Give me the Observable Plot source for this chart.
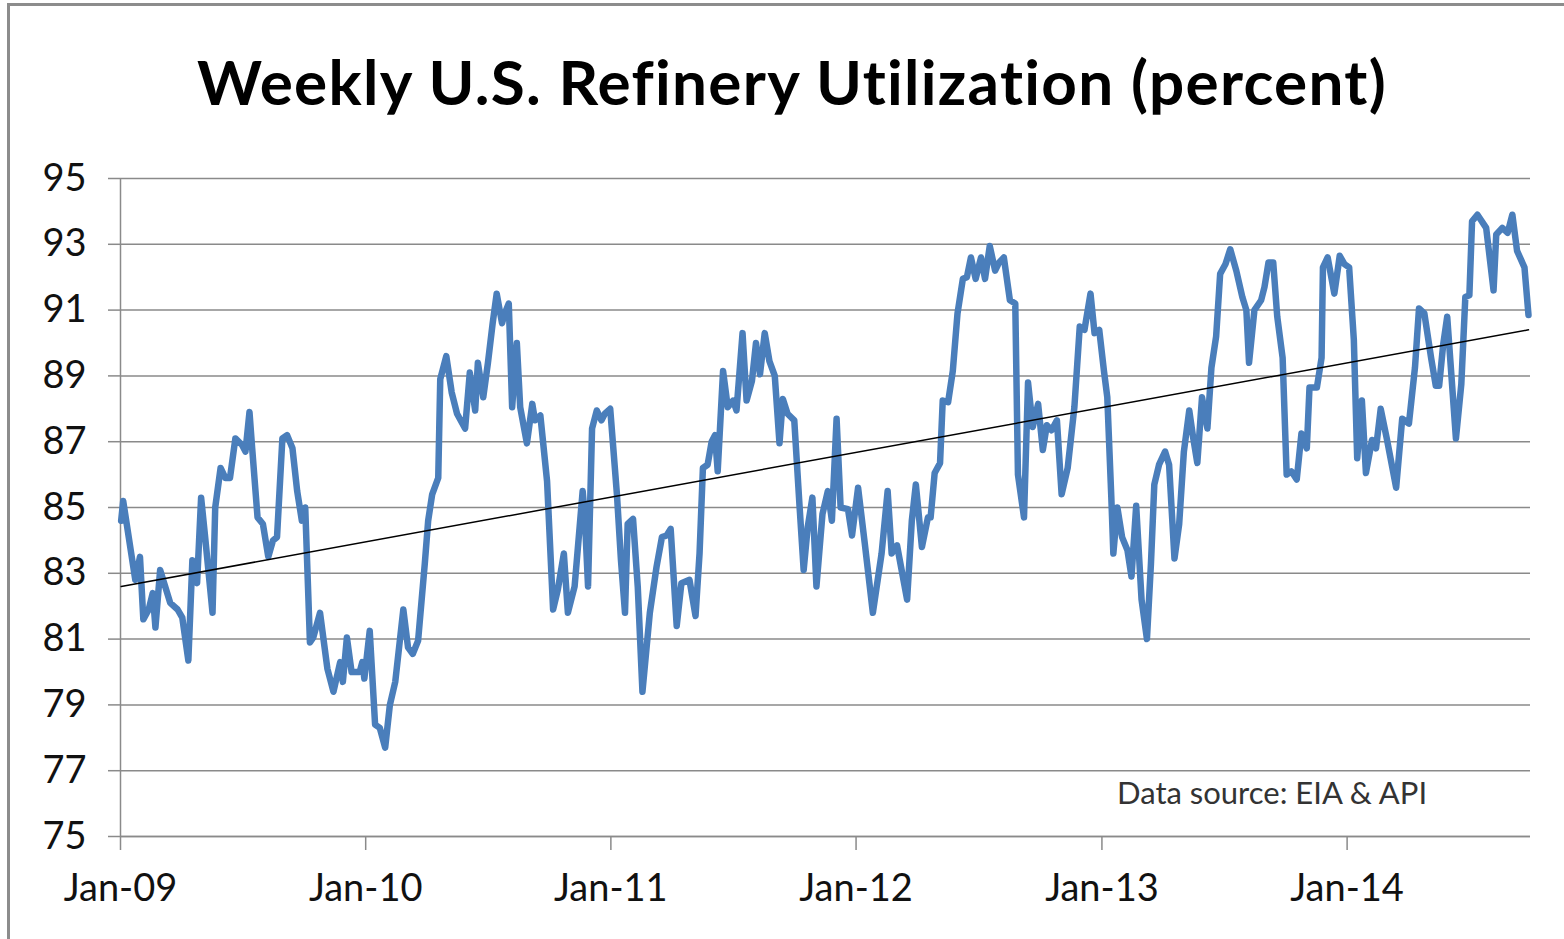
<!DOCTYPE html>
<html>
<head>
<meta charset="utf-8">
<script src="https://cdn.jsdelivr.net/npm/d3@7"></script>
<script src="https://cdn.jsdelivr.net/npm/@observablehq/plot@0.6"></script>
<style>
  html, body { margin: 0; padding: 0; background: #fff; }
  body { width: 1564px; height: 939px; position: relative; overflow: hidden; font-family: Lato, "Open Sans", sans-serif; font-variant-ligatures: none; }
  #frame { position: absolute; left: 7px; top: 3px; width: 1600px; height: 1000px; border-left: 3px solid #8c8c8c; border-top: 3px solid #8c8c8c; }
  #title { position: absolute; left: 0; width: 1584px; top: 50px; text-align: center; font-weight: 700; font-size: 62px; letter-spacing: 1.3px; color: #000; line-height: 1; font-variant-ligatures: none; white-space: nowrap; }
  #chart { position: absolute; left: 0; top: 150px; }
  #source { position: absolute; left: 1117px; top: 777px; font-size: 31px; color: #333; line-height: 1; white-space: nowrap; }
</style>
</head>
<body>
<div id="frame"></div>
<div id="title">Weekly U.S. Refinery Utilization (percent)</div>
<div id="chart"></div>
<div id="source">Data source: EIA &amp; API</div>
<script>
// Weekly U.S. refinery utilization (percent)
const y2009 = [
  ["2009-01-02",84.6],["2009-01-05",85.2],["2009-01-23",82.8],["2009-01-30",83.5],["2009-02-04",81.6],
  ["2009-02-12",81.9],["2009-02-18",82.4],["2009-02-22",81.35],["2009-03-01",83.1],["2009-03-16",82.1],
  ["2009-03-27",81.9],["2009-04-03",81.65],["2009-04-12",80.35],["2009-04-18",83.4],["2009-04-25",82.7],
  ["2009-05-01",85.3],["2009-05-07",84.1],["2009-05-18",81.8],["2009-05-22",85.0],["2009-05-30",86.2],
  ["2009-06-06",85.9],["2009-06-13",85.9],["2009-06-21",87.1],["2009-07-01",86.9],["2009-07-06",86.7],
  ["2009-07-12",87.9],["2009-07-16",86.8],["2009-07-24",84.7],["2009-08-01",84.5],["2009-08-09",83.5],
  ["2009-08-16",84.0],["2009-08-22",84.1],["2009-08-30",87.1],["2009-09-06",87.2],["2009-09-14",86.8],
  ["2009-09-21",85.5],["2009-09-28",84.6],["2009-10-03",85.0],["2009-10-10",80.9],["2009-10-15",81.05],
  ["2009-10-25",81.8],["2009-11-05",80.1],["2009-11-14",79.4],["2009-11-24",80.3],["2009-11-28",79.7],
  ["2009-12-04",81.05],["2009-12-11",80.0],["2009-12-23",80.0],["2009-12-27",80.3],["2009-12-30",79.8]
];
const y2010 = [
  ["2010-01-07",81.25],["2010-01-15",78.4],["2010-01-22",78.3],["2010-01-30",77.7],["2010-02-06",79.0],
  ["2010-02-14",79.7],["2010-02-26",81.9],["2010-03-05",80.75],["2010-03-12",80.55],["2010-03-20",80.95],
  ["2010-03-30",83.3],["2010-04-04",84.6],["2010-04-10",85.4],["2010-04-19",85.9],["2010-04-22",88.9],
  ["2010-05-01",89.6],["2010-05-09",88.5],["2010-05-17",87.85],["2010-05-29",87.4],["2010-06-05",89.1],
  ["2010-06-13",87.95],["2010-06-17",89.4],["2010-06-25",88.35],["2010-07-02",89.4],["2010-07-09",90.6],
  ["2010-07-15",91.5],["2010-07-23",90.6],["2010-07-27",90.9],["2010-08-02",91.2],["2010-08-07",88.05],
  ["2010-08-14",90.0],["2010-08-19",88.05],["2010-08-29",86.95],["2010-09-06",88.15],["2010-09-10",87.65],
  ["2010-09-18",87.8],["2010-09-28",85.8],["2010-10-07",81.9],["2010-10-14",82.5],["2010-10-23",83.6],
  ["2010-10-29",81.8],["2010-11-08",82.6],["2010-11-20",85.5],["2010-11-23",84.8],["2010-11-28",82.6],
  ["2010-12-04",87.4],["2010-12-11",87.95],["2010-12-18",87.65],["2010-12-23",87.85],["2010-12-31",88.0]
];
const y2011 = [
  ["2011-01-10",85.4],["2011-01-16",83.4],["2011-01-22",81.8],["2011-01-26",84.5],["2011-02-03",84.65],
  ["2011-02-10",82.6],["2011-02-17",79.4],["2011-02-28",81.8],["2011-03-10",83.2],["2011-03-18",84.1],
  ["2011-03-25",84.15],["2011-03-31",84.35],["2011-04-09",81.4],["2011-04-16",82.7],["2011-04-28",82.8],
  ["2011-05-07",81.7],["2011-05-13",83.6],["2011-05-18",86.2],["2011-05-25",86.3],["2011-05-31",87.0],
  ["2011-06-05",87.2],["2011-06-09",86.1],["2011-06-17",89.15],["2011-06-24",88.05],["2011-07-02",88.25],
  ["2011-07-07",87.95],["2011-07-16",90.3],["2011-07-22",88.25],["2011-07-30",88.85],["2011-08-05",90.0],
  ["2011-08-11",89.05],["2011-08-18",90.3],["2011-08-25",89.45],["2011-09-02",89.0],["2011-09-09",86.95],
  ["2011-09-14",88.3],["2011-09-21",87.85],["2011-10-01",87.65],["2011-10-09",85.0],["2011-10-15",83.1],
  ["2011-10-21",84.4],["2011-10-28",85.3],["2011-11-03",82.6],["2011-11-12",84.8],["2011-11-20",85.5],
  ["2011-11-26",84.6],["2011-12-03",87.7],["2011-12-09",85.0],["2011-12-20",84.95],["2011-12-26",84.15]
];
const y2012 = [
  ["2012-01-04",85.6],["2012-01-14",83.9],["2012-01-26",81.8],["2012-02-08",83.6],["2012-02-17",85.5],
  ["2012-02-23",83.6],["2012-03-02",83.85],["2012-03-17",82.2],["2012-03-24",84.6],["2012-03-30",85.7],
  ["2012-04-08",83.8],["2012-04-17",84.7],["2012-04-21",84.7],["2012-04-27",86.05],["2012-05-05",86.35],
  ["2012-05-09",88.25],["2012-05-17",88.2],["2012-05-24",89.15],["2012-05-31",90.9],["2012-06-08",91.95],
  ["2012-06-14",92.0],["2012-06-20",92.6],["2012-06-27",91.95],["2012-07-05",92.6],["2012-07-11",91.95],
  ["2012-07-18",92.95],["2012-07-26",92.2],["2012-08-01",92.45],["2012-08-08",92.6],["2012-08-17",91.3],
  ["2012-08-25",91.2],["2012-08-29",86.0],["2012-09-07",84.7],["2012-09-13",88.8],["2012-09-20",87.45],
  ["2012-09-28",88.15],["2012-10-05",86.75],["2012-10-11",87.5],["2012-10-18",87.35],["2012-10-26",87.65],
  ["2012-11-02",85.4],["2012-11-11",86.2],["2012-11-21",88.05],["2012-11-29",90.5],["2012-12-06",90.4],
  ["2012-12-15",91.5],["2012-12-21",90.3],["2012-12-28",90.4]
];
const y2013 = [
  ["2013-01-04",89.15],["2013-01-09",88.35],["2013-01-15",85.3],["2013-01-18",83.6],["2013-01-24",85.0],
  ["2013-01-31",84.1],["2013-02-08",83.7],["2013-02-14",82.9],["2013-02-21",85.05],["2013-03-01",82.2],
  ["2013-03-09",81.0],["2013-03-15",83.3],["2013-03-20",85.7],["2013-03-27",86.3],["2013-04-05",86.7],
  ["2013-04-11",86.3],["2013-04-19",83.45],["2013-04-26",84.5],["2013-05-03",86.7],["2013-05-11",87.95],
  ["2013-05-17",87.1],["2013-05-23",86.35],["2013-05-30",88.35],["2013-06-07",87.4],["2013-06-13",89.25],
  ["2013-06-20",90.2],["2013-06-26",92.1],["2013-07-04",92.4],["2013-07-11",92.85],["2013-07-20",92.2],
  ["2013-07-29",91.4],["2013-08-04",91.0],["2013-08-08",89.4],["2013-08-16",91.0],["2013-08-26",91.3],
  ["2013-08-31",91.7],["2013-09-06",92.45],["2013-09-13",92.45],["2013-09-19",90.8],["2013-09-27",89.55],
  ["2013-10-03",86.0],["2013-10-10",86.1],["2013-10-18",85.85],["2013-10-25",87.25],["2013-11-02",86.8],
  ["2013-11-06",88.65],["2013-11-17",88.65],["2013-11-24",89.55],["2013-11-26",92.3],["2013-12-03",92.6],
  ["2013-12-13",91.5],["2013-12-21",92.65],["2013-12-28",92.4]
];
const y2014 = [
  ["2014-01-04",92.3],["2014-01-11",90.1],["2014-01-16",86.5],["2014-01-23",88.25],["2014-01-29",86.05],
  ["2014-02-07",87.05],["2014-02-13",86.8],["2014-02-20",88.0],["2014-03-01",87.1],["2014-03-15",85.6],
  ["2014-03-24",87.7],["2014-04-03",87.55],["2014-04-12",89.25],["2014-04-18",91.05],["2014-04-26",90.9],
  ["2014-05-06",89.55],["2014-05-13",88.7],["2014-05-18",88.7],["2014-05-24",89.95],["2014-05-30",90.8],
  ["2014-06-12",87.1],["2014-06-20",88.75],["2014-06-26",91.4],["2014-07-02",91.45],["2014-07-06",93.7],
  ["2014-07-14",93.9],["2014-07-27",93.5],["2014-08-07",91.6],["2014-08-11",93.3],["2014-08-20",93.5],
  ["2014-08-28",93.35],["2014-09-04",93.9],["2014-09-11",92.8],["2014-09-22",92.3],["2014-09-28",90.85]
];
// Linear trend line (start and end values)
const trendDates = ["2009-01-02", "2014-09-28"];
const trendValues = [82.6, 90.4];
const yTicks = [75, 77, 79, 81, 83, 85, 87, 89, 91, 93, 95];
const xTickDates = ["2009-01-01", "2010-01-01", "2011-01-01", "2012-01-01", "2013-01-01", "2014-01-01"];

const parse = d3.utcParse("%Y-%m-%d");
const data = [...y2009, ...y2010, ...y2011, ...y2012, ...y2013, ...y2014]
  .map(([d, v]) => ({date: parse(d), value: v}));
const trend = trendDates.map((d, i) => ({date: parse(d), value: trendValues[i]}));
const xTicks = xTickDates.map(parse);

const chart = Plot.plot({
  width: 1564,
  height: 760,
  marginLeft: 120,
  marginRight: 34,
  marginTop: 28,
  marginBottom: 74,
  style: {fontFamily: "Lato, 'Open Sans', sans-serif", fontSize: "38px", color: "#111", background: "transparent", overflow: "visible"},
  x: {type: "utc", domain: [parse("2009-01-01"), parse("2014-10-01")]},
  y: {domain: [75, 95]},
  marks: [
    Plot.gridY(yTicks, {stroke: "#8a8a8a", strokeOpacity: 1, strokeWidth: 1.5}),
    Plot.axisY({ticks: yTicks, tickSize: 12, tickPadding: 22, stroke: "#8a8a8a", strokeWidth: 1.5, fill: "#111", label: null}),
    Plot.axisX({ticks: xTicks, tickFormat: d3.utcFormat("%b-%y"), tickSize: 14, tickPadding: 24, stroke: "#8a8a8a", strokeWidth: 1.5, fill: "#111", label: null}),
    Plot.ruleX([parse("2009-01-01")], {stroke: "#8a8a8a", strokeWidth: 1.5}),
    Plot.ruleY([75], {stroke: "#8a8a8a", strokeWidth: 1.5}),
    Plot.lineY(data, {x: "date", y: "value", stroke: "#4a7ebb", strokeWidth: 6.5, strokeLinejoin: "round", strokeLinecap: "round"}),
    Plot.lineY(trend, {x: "date", y: "value", stroke: "#000", strokeWidth: 1.5})
  ]
});
document.getElementById("chart").appendChild(chart);
</script>
</body>
</html>
